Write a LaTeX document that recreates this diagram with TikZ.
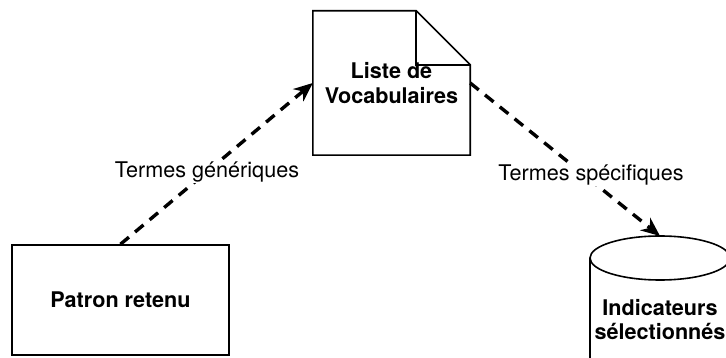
\documentclass[tikz,border=0pt]{standalone}
\usepackage{fontspec}
\setmainfont{TeX Gyre Heros}
\usetikzlibrary{positioning,calc,arrows.meta}

\begin{document}
\begin{tikzpicture}[x=1pt, y=-1pt,
    box/.style={draw, line width=1.6pt, minimum width=217pt, minimum height=110pt, font=\fontsize{21.6}{25}\selectfont\bfseries, align=center},
    docbox/.style={minimum width=157pt, minimum height=144pt, font=\fontsize{21.6}{25}\selectfont\bfseries, align=center},
    lbl/.style={fill=white, inner sep=1pt, font=\fontsize{21.6}{25}\selectfont},
    arr/.style={-{Stealth[length=19pt, width=16pt, inset=6pt]}, line width=3.4pt, dash pattern=on 11pt off 8pt},
]
\useasboundingbox (0,0) rectangle (726,358);
\clip (0,0) rectangle (726,358);

% Patron retenu
\node[box] (patron) at (120.5,300) {Patron retenu};

% Liste de Vocabulaires (document with folded corner)
\node[docbox] (liste) at (391.5,83) {Liste de\\Vocabulaires};
\draw[line width=1.6pt, line join=miter] (liste.south west) -- (liste.north west)
    -- ([xshift=-54pt]liste.north east) -- ([yshift=-54pt]liste.north east) -- (liste.south east) -- cycle;
\draw[line width=1.6pt] ([xshift=-54pt]liste.north east) |- ([yshift=-54pt]liste.north east);

% Indicateurs selectionnes (cylinder)
\coordinate (cyltop) at (660,236);
\draw[line width=1.6pt] (590,258) -- (590,380) arc[start angle=180, end angle=360, x radius=70, y radius=-22] -- (730,258);
\draw[line width=1.6pt] (660,258) ellipse[x radius=70, y radius=22];
\node[font=\fontsize{21.6}{24}\selectfont\bfseries, align=center] (indic) at (660,320) {Indicateurs\\sélectionnés};

% Arrows
\draw[arr] (patron.north) -- node[lbl, pos=0.45] {Termes génériques} (liste.west);
\draw[arr] (liste.east) -- node[lbl, pos=0.6, xshift=7pt] {Termes spécifiques} (cyltop);
\end{tikzpicture}
\end{document}
